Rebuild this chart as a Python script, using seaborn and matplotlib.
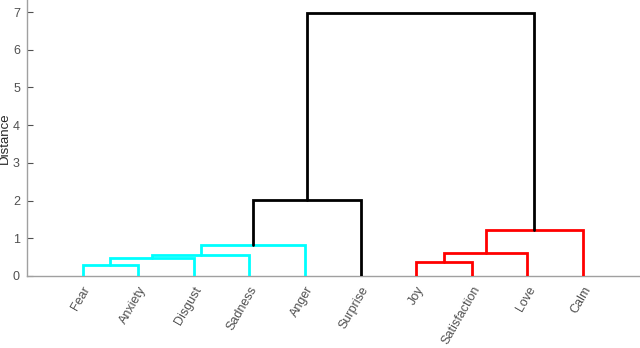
import seaborn as sns
import matplotlib.pyplot as plt

# leaves in dendrogram order
labels = ["Fear", "Anxiety", "Disgust", "Sadness", "Anger",
          "Surprise", "Joy", "Satisfaction", "Love", "Calm"]

# merges: left node, right node, distance (leaves 0-9, new clusters numbered from 10)
merge_left = [0, 10, 11, 12, 6, 14, 15, 13, 17]
merge_right = [1, 2, 3, 4, 7, 8, 9, 5, 16]
merge_dist = [0.30, 0.47, 0.56, 0.82, 0.36, 0.61, 1.22, 2.02, 6.97]
merge_color = ["cyan", "cyan", "cyan", "cyan", "red", "red", "red", "black", "black"]

sns.set_style("ticks")
plt.rcParams['font.family'] = ['Liberation Sans', 'DejaVu Sans']

fig = plt.figure(figsize=(6.4, 3.48), dpi=100)
ax = fig.add_axes([0.042, 0.207, 0.956, 0.793])

# x position and height of each node
xpos = {i: i + 1 for i in range(len(labels))}
ypos = {i: 0.0 for i in range(len(labels))}
for k, (a, b, d, c) in enumerate(zip(merge_left, merge_right, merge_dist, merge_color)):
    node = len(labels) + k
    xs = [xpos[a], xpos[a], xpos[b], xpos[b]]
    ys = [ypos[a], d, d, ypos[b]]
    ax.plot(xs, ys, color=c, lw=2, solid_joinstyle="miter", zorder=3)
    xpos[node] = (xpos[a] + xpos[b]) / 2
    ypos[node] = d

ax.set_xlim(0, 11)
ax.set_ylim(0, 7.32)
ax.set_yticks(range(8))
ax.set_xticks(range(1, len(labels) + 1))
ax.set_xticklabels(labels, rotation=60, ha="right", rotation_mode="anchor",
                   color="#505050", fontsize=9)
ax.tick_params(axis="y", direction="in", length=4, colors="#505050",
               labelsize=9, width=0.8, pad=5)
ax.tick_params(axis="x", length=0, pad=6)
ax.set_ylabel("Distance", fontsize=9.5, color="#262626")
ax.yaxis.set_label_coords(-0.026, 0.5)
sns.despine(ax=ax)
for s in ("left", "bottom"):
    ax.spines[s].set_color("#a0a0a0")
    ax.spines[s].set_linewidth(1)

fig.savefig("out.png", dpi=100)
